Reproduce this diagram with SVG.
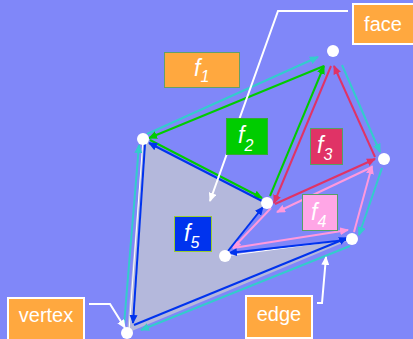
<svg xmlns="http://www.w3.org/2000/svg" width="413" height="339" viewBox="0 0 413 339">
<style>
.e{fill:none;stroke-width:2;}
.cy{stroke:#33CCCC;marker-end:url(#mc);}
.gr{stroke:#00CC00;marker-end:url(#mg);}
.rd{stroke:#E03366;marker-end:url(#mr);}
.pk{stroke:#FF99DD;marker-end:url(#mp);}
.bl{stroke:#0033EE;marker-end:url(#mb);}
.ld{fill:none;stroke:#FFFFFF;stroke-width:2;}
.lbl{font-family:"Liberation Sans",Arial,sans-serif;font-size:20px;fill:#FFFFFF;}
.fl{font-family:"Liberation Sans",Arial,sans-serif;font-size:23px;font-style:italic;fill:#FFFFFF;}
.box{fill:#FFA83F;stroke:#FFFFFF;stroke-width:2;}
.dot{fill:#FFFFFF;}
</style>
<defs>
<marker id="mc" markerUnits="userSpaceOnUse" markerWidth="9" markerHeight="8" refX="8" refY="4" orient="auto"><path d="M0,0 L9,4 L0,8 z" fill="#33CCCC"/></marker>
<marker id="mg" markerUnits="userSpaceOnUse" markerWidth="9" markerHeight="8" refX="8" refY="4" orient="auto"><path d="M0,0 L9,4 L0,8 z" fill="#00CC00"/></marker>
<marker id="mr" markerUnits="userSpaceOnUse" markerWidth="9" markerHeight="8" refX="8" refY="4" orient="auto"><path d="M0,0 L9,4 L0,8 z" fill="#E03366"/></marker>
<marker id="mp" markerUnits="userSpaceOnUse" markerWidth="9" markerHeight="8" refX="8" refY="4" orient="auto"><path d="M0,0 L9,4 L0,8 z" fill="#FF99DD"/></marker>
<marker id="mb" markerUnits="userSpaceOnUse" markerWidth="9" markerHeight="8" refX="8" refY="4" orient="auto"><path d="M0,0 L9,4 L0,8 z" fill="#0033EE"/></marker>
<marker id="mw" markerUnits="userSpaceOnUse" markerWidth="9" markerHeight="8" refX="8" refY="4" orient="auto"><path d="M0,0 L9,4 L0,8 z" fill="#FFFFFF"/></marker>
</defs>
<rect x="0" y="0" width="413" height="339" fill="#8087F9"/>
<g id="face-f5-fill">
<polygon points="143,139 267,203 225,256 352,239 127,333" fill="#B4B8DC"/>
<line x1="143" y1="139" x2="129" y2="331" stroke="#FFFFFF" stroke-width="1"/>
<line x1="225" y1="256" x2="352" y2="239" stroke="#FFFFFF" stroke-width="1"/>
</g>
<g id="connectors">
<line class="e cy" x1="147" y1="134" x2="318" y2="57"/>
<line class="e cy" x1="342" y1="65" x2="380" y2="152"/>
<line class="e cy" x1="382" y1="168" x2="359" y2="235"/>
<line class="e cy" x1="350" y1="246" x2="141" y2="330"/>
<line class="e cy" x1="124" y1="325" x2="139" y2="145"/>
<line class="e gr" x1="324" y1="66" x2="149" y2="138"/>
<line class="e gr" x1="150" y1="140" x2="262" y2="198"/>
<line class="e gr" x1="270" y1="196" x2="324" y2="66"/>
<line class="e rd" x1="331" y1="66" x2="274" y2="203"/>
<line class="e rd" x1="375" y1="157" x2="334" y2="66"/>
<line class="e rd" x1="275" y1="204" x2="375" y2="159"/>
<line class="e pk" x1="372" y1="167" x2="277" y2="212"/>
<line class="e pk" x1="271" y1="208" x2="233" y2="248"/>
<line class="e pk" x1="233" y1="248" x2="348" y2="230"/>
<line class="e pk" x1="354" y1="232" x2="372" y2="166"/>
<line class="e bl" x1="145" y1="144" x2="133" y2="323"/>
<line class="e bl" x1="134" y1="325" x2="347" y2="238"/>
<line class="e bl" x1="346" y1="240" x2="229" y2="253"/>
<line class="e bl" x1="228" y1="251" x2="263" y2="207"/>
<line class="e bl" x1="262" y1="201" x2="149" y2="143"/>
<polyline class="ld" points="348,11 278,11 210,201" marker-end="url(#mw)"/>
<polyline class="ld" points="89,304 110,304 125,328" marker-end="url(#mw)"/>
<polyline class="ld" points="317,303 322,303 326,257" marker-end="url(#mw)"/>
</g>
<g id="vertices">
<circle class="dot" cx="333" cy="51" r="6"/>
<circle class="dot" cx="143" cy="139" r="6"/>
<circle class="dot" cx="384" cy="159" r="6"/>
<circle class="dot" cx="267" cy="203" r="6"/>
<circle class="dot" cx="225" cy="256" r="6"/>
<circle class="dot" cx="352" cy="239" r="6"/>
<circle class="dot" cx="127" cy="333" r="6"/>
</g>
<g id="label-f1">
<rect x="164.5" y="52.5" width="75" height="35" fill="#FFA83F" stroke="#66A066" stroke-width="1"/>
<text class="fl" x="194" y="76">f<tspan font-size="16" dy="6">1</tspan></text>
</g>
<g id="label-f2">
<rect x="226.5" y="118.5" width="41" height="36" fill="#00CC00" stroke="#33AA33" stroke-width="1"/>
<text class="fl" x="238" y="143">f<tspan font-size="16" dy="8">2</tspan></text>
</g>
<g id="label-f3">
<rect x="310.5" y="128.5" width="32" height="36" fill="#E03366" stroke="#55A066" stroke-width="1"/>
<text class="fl" x="317" y="153">f<tspan font-size="16" dy="7">3</tspan></text>
</g>
<g id="label-f4">
<rect x="302.5" y="194.5" width="35" height="36" fill="#FFA6E6" stroke="#55A066" stroke-width="1"/>
<text class="fl" x="311" y="220">f<tspan font-size="16" dy="7">4</tspan></text>
</g>
<g id="label-f5">
<rect x="174.5" y="216.5" width="37" height="35" fill="#0033EE" stroke="#99CC33" stroke-width="1"/>
<text class="fl" x="184" y="241">f<tspan font-size="16" dy="7">5</tspan></text>
</g>
<g id="label-face">
<rect class="box" x="353" y="4" width="62" height="40"/>
<text class="lbl" x="383" y="31" text-anchor="middle">face</text>
</g>
<g id="label-vertex">
<rect class="box" x="8" y="298" width="76" height="42"/>
<text class="lbl" x="46" y="322" text-anchor="middle">vertex</text>
</g>
<g id="label-edge">
<rect class="box" x="246" y="296" width="66" height="42"/>
<text class="lbl" x="279" y="321" text-anchor="middle">edge</text>
</g>
</svg>
